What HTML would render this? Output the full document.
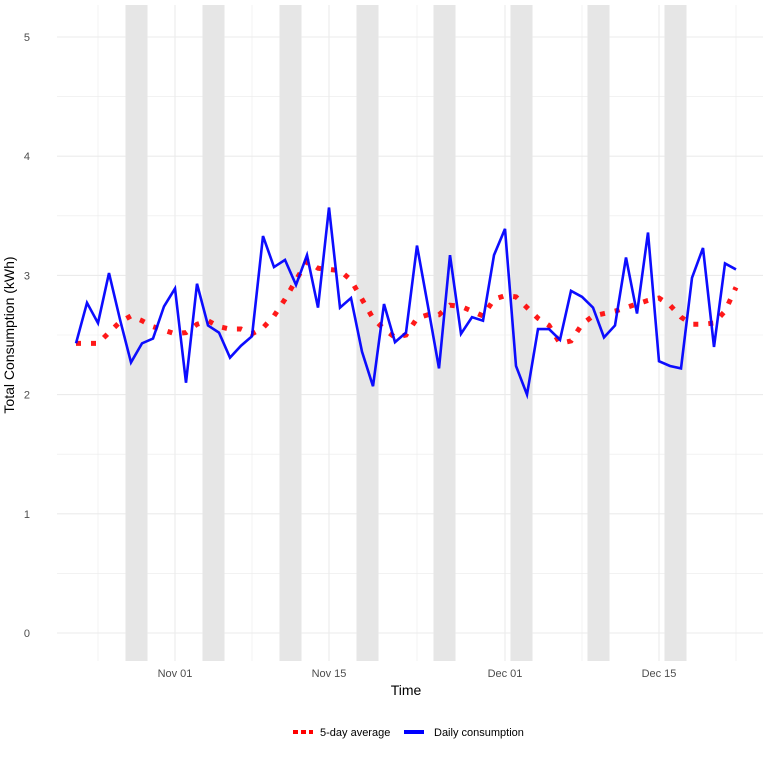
<!DOCTYPE html>
<html><head><meta charset="utf-8"><style>
body{margin:0;background:#fff;font-family:"Liberation Sans",Arial,sans-serif;}
svg text{font-family:"Liberation Sans",Arial,sans-serif;}
</style></head><body>
<svg id="chart" width="782" height="757" viewBox="0 0 782 757" xmlns="http://www.w3.org/2000/svg">
<g id="grid"></g>
<g id="shade"></g>
<g id="series"></g>
<g id="axes"></g>
<text x="14" y="335" transform="rotate(-90 14 335)" text-anchor="middle" font-size="14" fill="#000">Total Consumption (kWh)</text>
<text x="406" y="695" text-anchor="middle" font-size="14" fill="#000">Time</text>
<g>
<g>
<line x1="293" y1="732" x2="313" y2="732" stroke="#ff0000" stroke-width="4" stroke-dasharray="5 3"/>
<text x="320" y="736" font-size="11" fill="#000">5-day average</text></g>
<g>
<line x1="404" y1="732" x2="424" y2="732" stroke="#0000ff" stroke-width="4"/>
<text x="434" y="736" font-size="11" fill="#000">Daily consumption</text></g>
</g>
</svg>
<script>
const daily = [2.43,2.77,2.60,3.02,2.63,2.27,2.43,2.47,2.74,2.89,2.10,2.93,2.58,2.52,2.31,2.41,2.49,3.33,3.07,3.13,2.92,3.17,2.73,3.57,2.73,2.81,2.36,2.07,2.76,2.44,2.52,3.25,2.74,2.22,3.17,2.51,2.65,2.62,3.17,3.39,2.24,2.00,2.55,2.55,2.46,2.87,2.82,2.73,2.48,2.58,3.15,2.68,3.36,2.28,2.24,2.22,2.98,3.23,2.40,3.10,3.05];
const avg5 = [2.43,2.43,2.43,2.52,2.61,2.66,2.62,2.57,2.54,2.51,2.52,2.59,2.62,2.57,2.55,2.55,2.51,2.56,2.66,2.80,2.96,3.12,3.06,3.05,3.04,2.96,2.80,2.64,2.55,2.48,2.50,2.64,2.67,2.67,2.75,2.74,2.70,2.66,2.80,2.83,2.82,2.73,2.64,2.58,2.43,2.45,2.59,2.66,2.68,2.70,2.73,2.76,2.79,2.81,2.75,2.65,2.59,2.59,2.60,2.70,2.90];
const weekendStarts = [5,12,19,26,33,40,47,54];
const yTicks = [0,1,2,3,4,5];
const xTickDays = [9,23,39,53];
const xTickLabels = ["Nov 01","Nov 15","Dec 01","Dec 15"];
const xMinorDays = [2,16,31,46,60];

const NS="http://www.w3.org/2000/svg";
const X0=57, X1=763, YT=5, YB=661;
const xs = i => 76 + 11*i;
const ys = v => 633 - 119.2*v;
function mk(tag, attrs, parent){const e=document.createElementNS(NS,tag);for(const k in attrs)e.setAttribute(k,attrs[k]);parent.appendChild(e);return e;}
const grid=document.getElementById('grid'), shade=document.getElementById('shade'), series=document.getElementById('series'), axes=document.getElementById('axes');

for(let v=0; v<=5; v+=0.5){
  const major = Number.isInteger(v);
  const l=mk('line',{x1:X0,x2:X1,y1:ys(v),y2:ys(v),stroke:'#ebebeb','stroke-width':major?1.1:0.6},grid);
  
  
}
xMinorDays.forEach(d=>{
  const l=mk('line',{x1:xs(d),x2:xs(d),y1:YT,y2:YB,stroke:'#ebebeb','stroke-width':0.6},grid);
  
  
});
xTickDays.forEach(d=>{
  const l=mk('line',{x1:xs(d),x2:xs(d),y1:YT,y2:YB,stroke:'#ebebeb','stroke-width':1.1},grid);
  
  
});
weekendStarts.forEach(d=>{
  const r=mk('rect',{x:xs(d-0.5),y:YT,width:xs(d+1.5)-xs(d-0.5),height:YB-YT,fill:'#e6e6e6'},shade);
  
  
});
const avgPath=mk('polyline',{points:avg5.map((v,i)=>xs(i)+','+ys(v)).join(' '),fill:'none',stroke:'#ff0000','stroke-width':5,'stroke-dasharray':'5 10','stroke-opacity':0.9},series);


const dPath=mk('polyline',{points:daily.map((v,i)=>xs(i)+','+ys(v)).join(' '),fill:'none',stroke:'#0000ff','stroke-width':2.6,'stroke-opacity':0.95,'stroke-linejoin':'miter'},series);


yTicks.forEach(v=>{
  const t=mk('text',{x:30,y:ys(v)+4,'text-anchor':'end','font-size':11,fill:'#4d4d4d'},axes);
  t.textContent=v;
  
  
});
xTickDays.forEach((d,k)=>{
  const t=mk('text',{x:xs(d),y:677,'text-anchor':'middle','font-size':11,fill:'#4d4d4d'},axes);
  t.textContent=xTickLabels[k];
  
  
});
</script>
</body></html>
